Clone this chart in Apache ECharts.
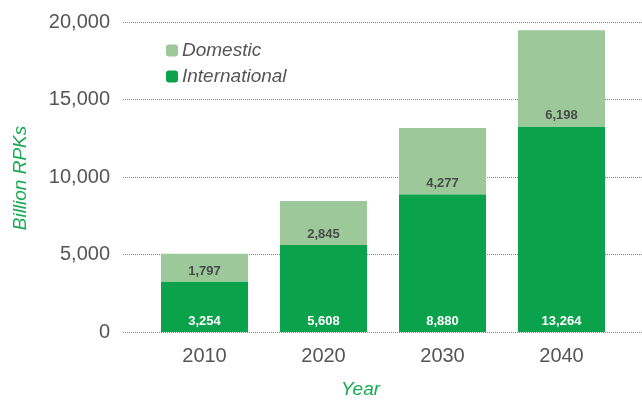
<!DOCTYPE html>
<html><head><meta charset="utf-8">
<script src="https://cdn.jsdelivr.net/npm/echarts@6/dist/echarts.min.js"></script>
<style>html,body{margin:0;padding:0;background:#fff}#c{width:642px;height:401px}</style>
</head><body><div id="c"></div>
<script>
var categories = ['2010', '2020', '2030', '2040'];
var international = [3254, 5608, 8880, 13264];
var domestic = [1797, 2845, 4277, 6198];
var yTicks = [0, 5000, 10000, 15000, 20000];

var FONT = '"Liberation Sans", Arial, sans-serif';
var chart = echarts.init(document.getElementById('c'));
function fmt(v){ return v.toLocaleString('en-US'); }
chart.setOption({
  animation: false,
  textStyle: { fontFamily: FONT },
  legend: {
    orient: 'vertical', left: 161, top: 36,
    itemWidth: 12, itemHeight: 12, itemGap: 7,
    data: ['Domestic', 'International'],
    textStyle: { fontSize: 19, fontStyle: 'italic', color: '#555', fontFamily: FONT, padding: [0,0,0,-1] }
  },
  grid: [
    { left: 123, right: 0, top: 22, bottom: 69 },
    { left: 145, right: 21, top: 22, bottom: 69 }
  ],
  xAxis: [
    { type: 'category', gridIndex: 0, data: categories, show: false },
    { type: 'category', gridIndex: 1, data: categories,
      axisLine: { show: false }, axisTick: { show: false },
      axisLabel: { fontSize: 20, color: '#555', margin: 14, fontFamily: FONT } }
  ],
  yAxis: [
    { type: 'value', gridIndex: 0, min: yTicks[0], max: yTicks[yTicks.length-1], interval: 5000,
      axisLine: { show: false }, axisTick: { show: false },
      axisLabel: { fontSize: 20, color: '#555', margin: 13, fontFamily: FONT, formatter: function(v){ return fmt(v); } },
      splitLine: { lineStyle: { type: [1, 1], color: '#888', width: 1 } } },
    { type: 'value', gridIndex: 1, min: 0, max: 20000, show: false, splitLine: { show: false } }
  ],
  series: [
    { name: 'International', type: 'bar', stack: 's', xAxisIndex: 1, yAxisIndex: 1,
      data: international, barWidth: 87, itemStyle: { color: '#0aa24a' },
      label: { show: true, position: 'insideBottom', distance: 4, color: '#fff', fontWeight: 'bold', fontSize: 13, fontFamily: FONT, formatter: function(p){ return fmt(p.value); } } },
    { name: 'Domestic', type: 'bar', stack: 's', xAxisIndex: 1, yAxisIndex: 1,
      data: domestic, barWidth: 87, itemStyle: { color: '#9dc99a' },
      label: { show: true, position: 'insideBottom', distance: 4, color: '#4a4a4a', fontWeight: 'bold', fontSize: 13, fontFamily: FONT, formatter: function(p){ return fmt(p.value); } } }
  ],
  graphic: [
    { type: 'text', left: 341, top: 380, style: { text: 'Year', fontSize: 19, fontStyle: 'italic', fill: '#1aab52', fontFamily: FONT } },
    { type: 'text', x: 21, y: 178, rotation: Math.PI/2, style: { text: 'Billion RPKs', fontSize: 19, fontStyle: 'italic', fill: '#1aab52', fontFamily: FONT, align: 'center', verticalAlign: 'middle' } }
  ]
});
</script></body></html>
